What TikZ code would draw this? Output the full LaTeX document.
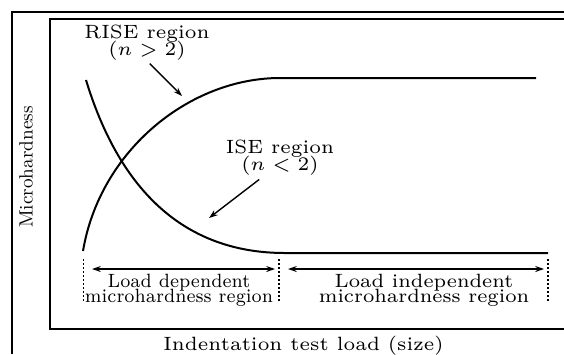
\documentclass[tikz,border=0pt]{standalone}
\usetikzlibrary{positioning,arrows.meta}
\newcommand{\tightlines}{\lineskiplimit=-3pt\relax}

\begin{document}
\begin{tikzpicture}[x=0.25pt,y=-0.25pt,
    curve/.style={line width=0.5pt},
    frame/.style={line width=0.3pt},
    pointer/.style={line width=0.35pt,-{Stealth[length=2.2pt,width=1.5pt]}},
    span/.style={line width=0.35pt,{Stealth[length=2.2pt,width=1.5pt]}-{Stealth[length=2.2pt,width=1.5pt]}},
    bound/.style={line width=0.35pt,dash pattern=on 0.5pt off 0.5pt},
    regiontext/.style={align=center,inner sep=0pt,scale=0.8,font=\fontsize{6}{5.3}\selectfont\tightlines},
    spantext/.style={align=center,inner sep=0pt,scale=0.686,font=\fontsize{7}{5.5}\selectfont\tightlines},
    axistext/.style={inner sep=0pt,scale=0.8,font=\fontsize{6}{7}\selectfont}]

    \useasboundingbox (0,0) rectangle (564,354);
    \draw[frame] (12,354) |- (564,12);
    \draw[frame] (564,19) -| (50,329) -- (564,329);

    % the two curves
    \coordinate (riseStart) at (83,251);
    \coordinate (riseKnee) at (280,78);
    \coordinate (riseEnd) at (536,78);
    \coordinate (iseStart) at (86,80);
    \coordinate (iseKnee) at (285,253);
    \coordinate (iseEnd) at (548,253);
    \draw[curve] (riseStart) .. controls (100,150) and (190,78) .. (riseKnee) -- (riseEnd);
    \draw[curve] (iseStart) .. controls (118,185) and (180,253) .. (iseKnee) -- (iseEnd);

    \node[regiontext] (rise) at (147,42.5) {RISE region\\($n>2$)};
    \node[regiontext] (ise) at (280,157.5) {ISE region\\($n<2$)};
    \coordinate (riseTip) at (182,96);
    \coordinate (iseTip) at (209,218);
    \draw[pointer,shorten <=1pt] (rise.south) -- (riseTip);
    \draw[pointer,shorten <=1.5pt] ([xshift=-4pt]ise.south) -- (iseTip);

    % load ranges
    \coordinate (b1) at (83.5,259);
    \coordinate (b1e) at (83.5,302);
    \coordinate (b2) at (279,259);
    \coordinate (b2e) at (279,302);
    \coordinate (b3) at (548,259);
    \coordinate (b3e) at (548,303);
    \draw[bound] (b1) -- (b1e);
    \draw[bound] (b2) -- (b2e);
    \draw[bound] (b3) -- (b3e);
    \coordinate (depL) at (92,269);
    \coordinate (depR) at (275,269);
    \coordinate (indepL) at (288,269);
    \coordinate (indepR) at (544,269);
    \draw[span] (depL) -- (depR);
    \draw[span] (indepL) -- (indepR);
    \node[spantext,xscale=0.93] (dep) at (179,290.5) {Load dependent\\microhardness region};
    \node[spantext,xscale=1.04] (indep) at (424,290.5) {Load independent\\microhardness region};

    \node[axistext] (xlab) at (303.5,345.5) {Indentation test load (size)};
    \node[inner sep=0pt,font=\fontsize{9.6}{11}\selectfont,scale=0.5,rotate=90] (ylab) at (26,167) {Microhardness};
\end{tikzpicture}
\end{document}
